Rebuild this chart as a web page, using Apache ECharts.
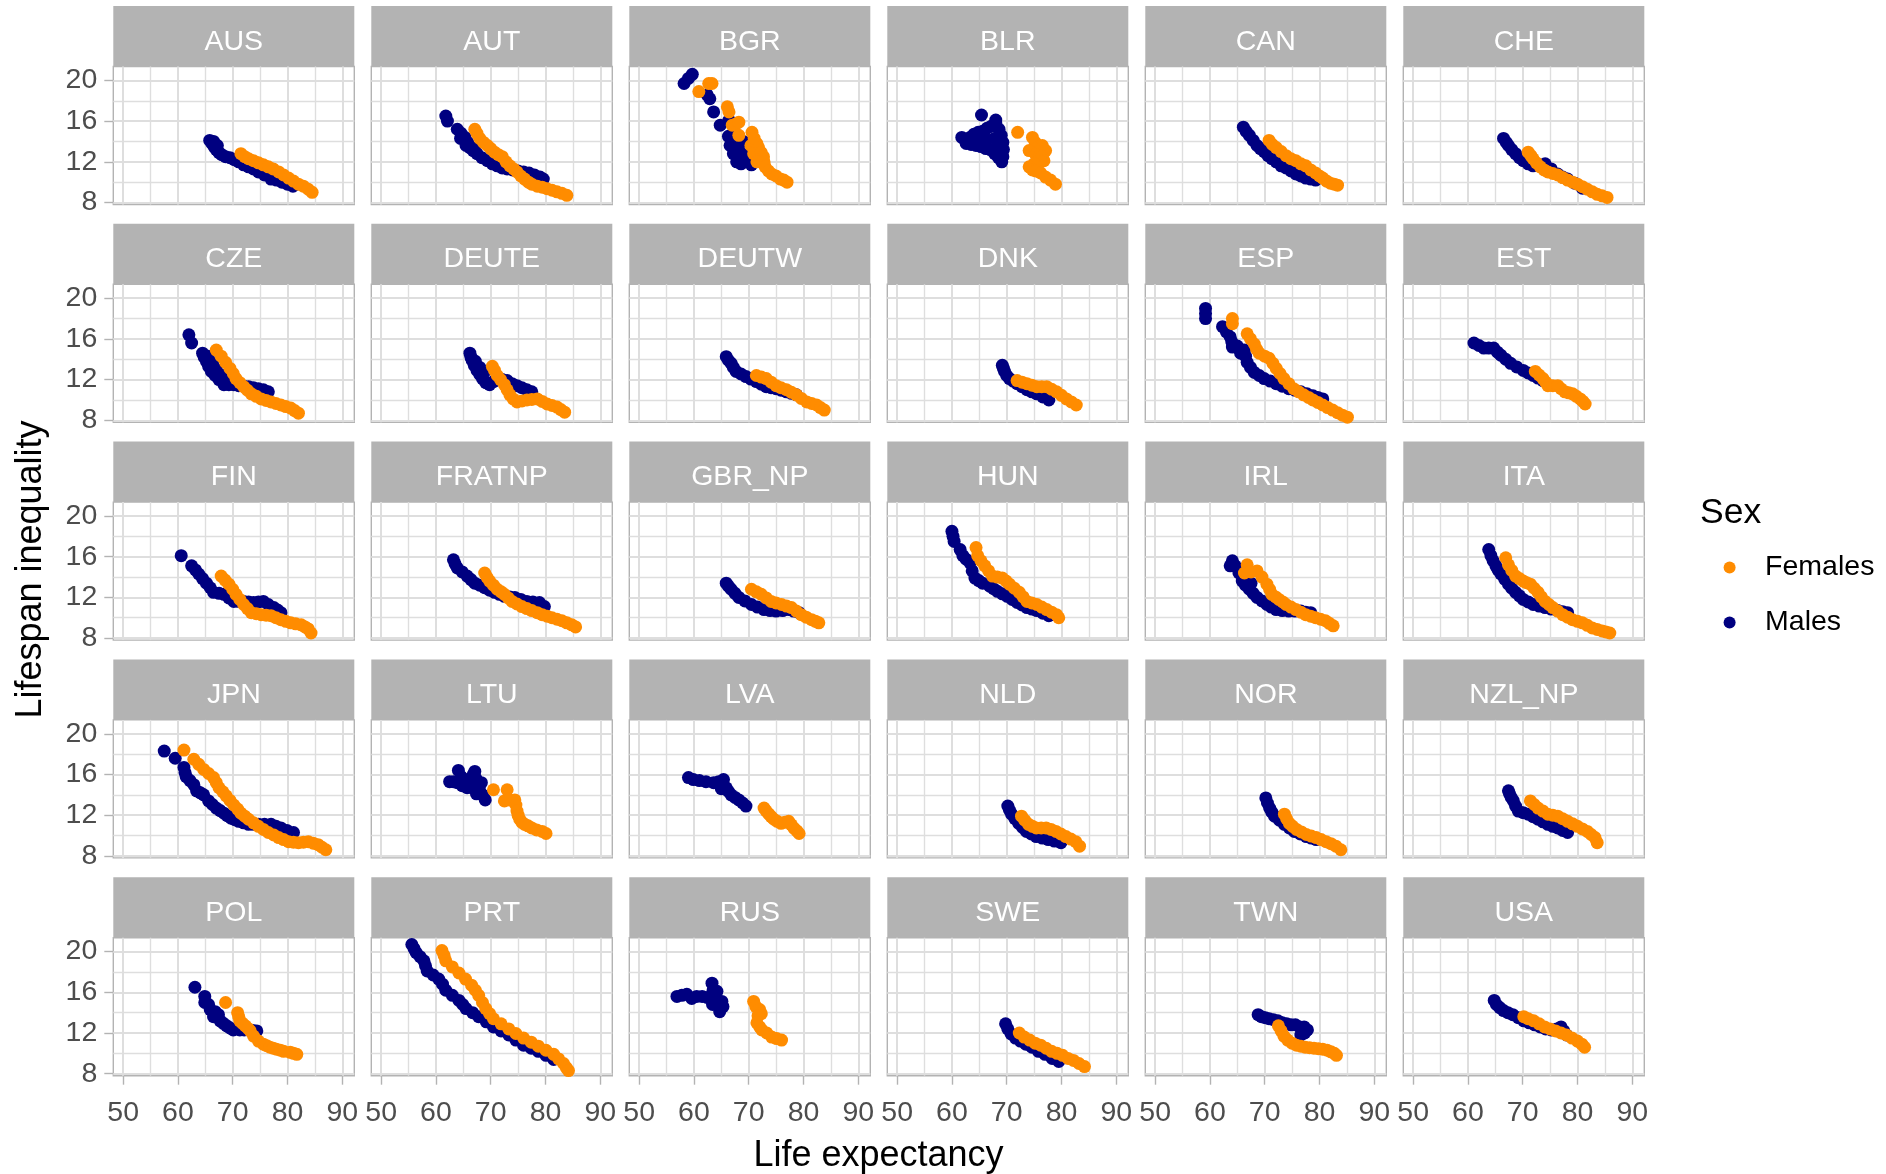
<!DOCTYPE html>
<html><head><meta charset="utf-8">
<script src="https://cdn.jsdelivr.net/npm/echarts@6/dist/echarts.min.js"></script>
<style>html,body{margin:0;padding:0;background:#fff}#c{width:1886px;height:1174px}</style>
</head><body><div id="c"></div>
<script>
const countries = ['AUS','AUT','BGR','BLR','CAN','CHE','CZE','DEUTE','DEUTW','DNK','ESP','EST','FIN','FRATNP','GBR_NP','HUN','IRL','ITA','JPN','LTU','LVA','NLD','NOR','NZL_NP','POL','PRT','RUS','SWE','TWN','USA'];
const xTicks = [50,60,70,80,90];
const yTicks = [8,12,16,20];
const xMinor = [55,65,75,85];
const yMinor = [10,14,18];
const seriesNames = ['Females','Males'];

const AUS_M = [[65.8,14.1],[66.2,13.8],[66.5,14.0],[66.6,13.5],[67,13.2],[67.2,13.6],[67.5,12.9],[68,12.7],[68.7,12.5],[69.5,12.4],[70.3,12.2],[71.1,12.0],[72,11.7],[72.9,11.5],[73.8,11.3],[74.7,11.0],[75.8,10.7],[77,10.3],[78,10.2],[79,10.0],[80,9.8],[81,9.6]];
const AUS_F = [[71.5,12.8],[72.2,12.5],[72.9,12.3],[73.8,12.1],[74.7,11.9],[75.6,11.7],[76.5,11.5],[77.4,11.3],[78.4,11.0],[79.3,10.7],[80.2,10.4],[81.1,10.1],[82,9.8],[82.9,9.6],[83.8,9.3],[84.5,9.0]];
const AUT_M = [[61.8,16.5],[62.1,16.0],[63.9,15.2],[64.5,14.3],[64.6,14.8],[65.3,14.4],[65.5,13.6],[65.8,13.9],[66.2,13.4],[66.8,13.1],[67,13.3],[67.5,12.8],[68.4,12.4],[69.4,12.1],[70.3,11.8],[71.2,11.6],[72.1,11.4],[73,11.3],[74,11.2],[75,11.1],[76,11.0],[77,10.9],[78,10.7],[79,10.5],[79.6,10.3]];
const AUT_F = [[67.1,15.2],[67.5,14.8],[68,14.3],[68.7,13.9],[69.4,13.6],[70,13.3],[70.7,12.95],[71.4,12.7],[72.1,12.5],[72.8,12.0],[73.5,11.6],[74.2,11.3],[74.8,11.0],[75.5,10.6],[76.2,10.3],[76.9,10.0],[77.5,9.8],[78.5,9.6],[79.4,9.5],[80.3,9.35],[81.2,9.2],[82.1,9.05],[83,8.9],[83.9,8.7]];
const BGR_M = [[59.7,20.6],[59.0,20.2],[58.2,19.7],[62.4,18.6],[62.9,18.2],[63.6,16.9],[64.8,15.6],[66.4,16.1],[67.3,15.4],[66.3,14.5],[66.6,13.6],[67.2,12.8],[67.7,14.2],[68.2,13.1],[68.6,12.3],[69.0,14.0],[69.2,12.7],[69.8,12.0],[70.5,11.7],[70.4,12.9],[67.8,12.0],[68.6,11.8]];
const BGR_F = [[62.7,19.7],[63.3,19.7],[60.9,18.9],[66.1,17.4],[66.4,16.9],[67.0,15.6],[67.6,15.7],[68.2,15.9],[68.2,14.6],[70.6,14.9],[71.0,14.3],[70.4,13.6],[71.5,13.8],[71.8,13.4],[70.9,12.8],[72.3,12.9],[72.7,12.5],[71.5,12.0],[72.8,12.0],[73.0,11.5],[73.6,11.1],[74.2,10.8],[75.0,10.6],[75.8,10.3],[76.4,10.2],[77.0,10.0]];
const BLR_M = [[65.4,16.6],[68.0,16.1],[61.8,14.4],[62.5,14.2],[63.3,14.4],[64,14.7],[64.8,14.9],[65.6,15.0],[66.4,15.3],[67.2,15.5],[68,15.8],[68.6,15.2],[69,14.6],[69.3,13.9],[69.4,13.2],[69.3,12.5],[69.1,12.0],[68.5,12.4],[67.8,12.8],[67,13.2],[66.2,13.3],[65.3,13.5],[64.4,13.6],[63.5,13.7],[62.6,13.8],[64.8,14.2],[66.3,14.2],[67.8,14.3],[68.3,13.5]];
const BLR_F = [[72.0,14.9],[74.7,14.4],[75.2,13.9],[75.6,13.4],[76.5,13.6],[77.1,13.1],[75.0,13.2],[74.1,13.1],[75.3,12.7],[76.0,12.6],[76.5,12.5],[76.8,12.1],[76.2,12.0],[75.0,11.8],[74.1,11.5],[74.7,11.2],[75.3,11.1],[76.2,10.9],[77.1,10.5],[78.0,10.2],[78.9,9.8]];
const CAN_M = [[66.1,15.4],[66.6,15.0],[67.2,14.6],[67.9,14.1],[68.6,13.6],[69.2,13.3],[69.9,13.0],[70.6,12.6],[71.3,12.3],[72.1,12.0],[73,11.6],[73.9,11.4],[74.8,11.1],[75.7,10.8],[76.6,10.6],[77.5,10.4],[78.4,10.3],[79.3,10.2]];
const CAN_F = [[70.8,14.1],[71.4,13.7],[72.1,13.4],[73,13.0],[73.9,12.6],[74.8,12.3],[75.7,12.1],[76.6,11.8],[77.5,11.6],[78.4,11.2],[79.3,10.9],[80,10.6],[80.6,10.4],[81.3,10.1],[82,9.9],[82.7,9.8],[83.3,9.7]];
const CHE_M = [[66.5,14.3],[67,13.9],[67.4,13.6],[68,13.2],[68.7,12.8],[69.4,12.4],[70.1,12.1],[71,11.8],[71.9,11.6],[73,11.7],[74.1,11.8],[75.2,11.3],[76.4,10.8],[77.3,10.5],[78.2,10.3],[79.5,9.9],[80.9,9.4]];
const CHE_F = [[71.0,12.95],[71.5,12.6],[71.9,12.3],[72.5,11.9],[73.2,11.5],[73.9,11.2],[74.6,11.0],[75.5,10.85],[76.4,10.7],[77.3,10.45],[78.2,10.2],[79.1,10.0],[80,9.8],[80.9,9.55],[81.8,9.3],[82.7,9.05],[83.6,8.8],[84.5,8.65],[85.4,8.5]];
const CZE_M = [[62.0,16.4],[62.5,15.6],[64.5,14.6],[64.8,14.2],[65.2,13.8],[65.5,14.3],[65.6,13.3],[66.1,12.8],[66.3,13.6],[66.8,12.4],[67,13],[67.5,12.0],[68.2,12.4],[68.4,11.5],[69.3,11.5],[69.3,12.1],[70.2,11.5],[71.1,11.4],[72,11.35],[72.9,11.3],[73.8,11.2],[74.7,11.1],[75.6,11.0],[76.5,10.8]];
const CZE_F = [[67.0,14.9],[67.9,14.3],[68.7,13.7],[69.5,13.1],[70.1,12.6],[70.6,12.1],[71.3,11.7],[72,11.3],[72.7,10.95],[73.4,10.6],[74.3,10.35],[75.2,10.1],[76.1,9.95],[77,9.8],[77.9,9.65],[78.8,9.5],[79.7,9.35],[80.6,9.2],[81.3,8.95],[82,8.7]];
const DEUTE_M = [[66.2,14.6],[66.4,14.2],[66.6,13.9],[67,13.4],[67.2,13.8],[67.5,12.9],[68,12.5],[68,13.2],[68.5,12.1],[68.8,12.7],[69.1,11.7],[69.8,11.5],[70.5,11.8],[71.2,12.1],[72.1,12.0],[73,11.9],[73.9,11.6],[74.8,11.4],[75.7,11.2],[76.6,11.0],[77.5,10.8]];
const DEUTE_F = [[70.3,13.3],[70.7,12.9],[71.2,12.4],[71.8,12.0],[72.5,11.5],[73,11.0],[73.5,10.5],[74.1,10.1],[74.8,9.8],[75.7,9.9],[76.6,10.0],[77.5,10.05],[78.5,10.1],[79.4,9.85],[80.3,9.6],[81.2,9.45],[82.1,9.3],[82.8,9.05],[83.5,8.8]];
const DEUTW_M = [[65.9,14.25],[66.3,13.9],[66.8,13.6],[67.2,13.2],[67.7,12.8],[68.6,12.55],[69.5,12.3],[70.4,12.05],[71.4,11.8],[72.3,11.55],[73.2,11.3],[74.1,11.2],[75,11.1],[75.9,10.95],[76.9,10.8],[77.8,10.65],[78.7,10.5]];
const DEUTW_F = [[71.4,12.4],[72.3,12.25],[73.2,12.1],[74.1,11.75],[75,11.4],[75.9,11.2],[76.9,11.0],[77.8,10.75],[78.7,10.5],[79.6,10.15],[80.6,9.8],[81.5,9.65],[82.4,9.5],[83.1,9.25],[83.8,9.0]];
const DNK_M = [[69.2,13.4],[69.4,13.1],[69.6,12.8],[70,12.4],[70.5,12.1],[71.2,11.85],[71.9,11.6],[72.8,11.3],[73.7,11.0],[74.6,10.8],[75.5,10.6],[76.6,10.3],[77.7,10.0]];
const DNK_F = [[71.9,11.9],[72.8,11.75],[73.7,11.6],[74.6,11.45],[75.5,11.3],[76.4,11.3],[77.3,11.3],[78.2,11.05],[79.1,10.8],[80,10.45],[80.9,10.1],[81.8,9.8],[82.7,9.5]];
const ESP_M = [[59.2,19.0],[59.2,18.5],[59.2,18.0],[62.3,17.2],[63.0,16.7],[63.7,16.2],[64.0,15.7],[64.1,15.2],[65,15.3],[65.6,14.6],[66.3,14.9],[66.5,14.3],[66.8,13.7],[67.4,13.2],[68.1,12.7],[69,12.4],[69.9,12.1],[71,11.85],[72.1,11.6],[73.2,11.35],[74.4,11.1],[75.5,10.95],[76.6,10.8],[77.7,10.6],[78.8,10.4],[79.7,10.25],[80.6,10.1]];
const ESP_F = [[64.1,18.0],[64.1,17.5],[66.8,16.5],[67.4,16.0],[68.1,15.5],[68.5,15.0],[69,14.6],[70,14.3],[70.8,14.1],[71.5,13.6],[72.1,13.1],[72.8,12.6],[73.5,12.1],[74.4,11.6],[75.3,11.1],[76.2,10.8],[77.1,10.5],[78,10.25],[78.8,10.0],[79.7,9.75],[80.6,9.5],[81.5,9.25],[82.4,9.0],[83.3,8.75],[84.2,8.5],[85.1,8.3]];
const EST_M = [[61.1,15.6],[62,15.35],[62.9,15.1],[63.8,15.1],[64.7,15.1],[65.4,14.7],[66,14.4],[66.9,14.0],[67.8,13.6],[68.9,13.25],[70.1,12.9],[71,12.65],[71.9,12.4],[72.8,12.15],[73.7,11.9]];
const EST_F = [[72.3,12.8],[73,12.45],[73.7,12.1],[74.2,11.75],[74.6,11.4],[75.5,11.4],[76.4,11.4],[77,11.1],[77.7,10.8],[78.4,10.7],[79.1,10.6],[79.8,10.35],[80.5,10.1],[81,9.85],[81.4,9.6]];
const FIN_M = [[60.6,16.1],[62.5,15.1],[63.2,14.7],[63.8,14.3],[64.5,13.85],[65.2,13.4],[65.9,12.95],[66.5,12.5],[67.5,12.4],[68.4,12.3],[69.3,11.95],[70.2,11.6],[71.1,11.6],[72,11.6],[72.9,11.55],[73.8,11.5],[74.7,11.55],[75.6,11.6],[76.5,11.3],[77.5,11.0],[78.2,10.75],[78.8,10.5]];
const FIN_F = [[67.9,14.1],[68.6,13.7],[69.3,13.3],[70,12.8],[70.6,12.3],[71.3,11.8],[72,11.3],[72.7,10.9],[73.4,10.5],[74.3,10.4],[75.2,10.3],[76.1,10.25],[77,10.2],[77.9,10.0],[78.8,9.8],[79.7,9.65],[80.6,9.5],[81.5,9.4],[82.5,9.3],[83.2,9.1],[83.8,8.9],[84.3,8.5]];
const FRATNP_M = [[63.2,15.7],[63.5,15.3],[63.9,14.9],[64.8,14.5],[65.7,14.1],[66.4,13.75],[67.1,13.4],[68,13.2],[68.9,12.95],[69.8,12.7],[70.7,12.5],[71.6,12.3],[72.5,12.1],[73.5,12.05],[74.4,12.0],[75.5,11.8],[76.6,11.6],[77.7,11.55],[78.9,11.5],[79.8,11.1]];
const FRATNP_F = [[68.9,14.4],[69.3,14.0],[69.8,13.6],[70.5,13.2],[71.2,12.8],[71.9,12.55],[72.5,12.3],[73.2,11.95],[73.9,11.6],[74.8,11.35],[75.7,11.1],[76.6,10.9],[77.5,10.7],[78.5,10.5],[79.4,10.3],[80.3,10.15],[81.2,10.0],[82.1,9.85],[83,9.7],[83.9,9.5],[84.8,9.3],[85.5,9.1]];
const GBR_NP_M = [[65.9,13.4],[66.3,13.1],[66.8,12.8],[67.5,12.4],[68.2,12.0],[69.3,11.65],[70.5,11.3],[71.6,11.05],[72.8,10.8],[73.9,10.7],[75,10.65],[76.2,10.7],[77.3,10.8],[78.2,10.65],[79.2,10.5]];
const GBR_NP_F = [[70.5,12.8],[71.4,12.55],[72.3,12.3],[73.2,11.95],[74.1,11.6],[75,11.45],[76,11.3],[76.9,11.15],[77.8,11.0],[78.7,10.65],[79.6,10.3],[80.5,10.05],[81.5,9.8],[82.2,9.65],[82.8,9.5]];
const HUN_M = [[60.0,18.5],[60.2,18.0],[60.4,17.5],[61.5,16.7],[62.0,16.1],[62.6,15.75],[63.3,15.4],[63.7,14.6],[64.2,13.9],[64.9,13.65],[65.6,13.4],[66.9,13.1],[67.6,12.85],[68.3,12.6],[69.2,12.35],[70.1,12.1],[71,11.8],[71.9,11.5],[72.8,11.25],[73.7,11.0],[74.6,10.85],[75.5,10.7],[76.6,10.45],[77.7,10.2]];
const HUN_F = [[64.4,16.9],[64.7,16.1],[65.3,15.6],[66,15.1],[66.7,14.6],[67.4,14.1],[68.3,14.0],[69.2,13.9],[69.9,13.6],[70.5,13.3],[71.4,12.9],[72.3,12.5],[73,12.05],[73.7,11.6],[74.6,11.45],[75.5,11.3],[76.4,11.05],[77.3,10.8],[78.2,10.55],[79.1,10.3],[79.5,10.0]];
const IRL_M = [[64.1,15.6],[63.7,15.1],[64.6,15.1],[65.3,14.4],[65.9,13.6],[66.5,13.9],[66.5,13.2],[67.5,13.4],[67.2,12.8],[67.9,12.4],[68.6,12.0],[69.5,11.65],[70.4,11.3],[71.2,11.05],[72.1,10.8],[73.2,10.7],[74.4,10.65],[75.5,10.65],[76.6,10.65],[77.5,10.55],[78.4,10.5]];
const IRL_F = [[66.8,15.2],[66.3,14.4],[67.5,14.5],[68.6,14.6],[69.5,14.0],[70.4,13.3],[70.9,12.8],[71.3,12.3],[72,12.05],[72.6,11.8],[73.3,11.55],[73.9,11.3],[74.8,11.05],[75.7,10.8],[76.6,10.55],[77.5,10.3],[78.4,10.15],[79.3,10.0],[80.2,9.85],[81.1,9.7],[81.8,9.45],[82.5,9.2]];
const ITA_M = [[63.8,16.7],[64.2,16.1],[64.6,15.6],[65.1,15.1],[65.5,14.7],[66,14.3],[66.7,13.8],[67.4,13.3],[68,12.9],[68.7,12.5],[69.4,12.15],[70.1,11.8],[71,11.55],[71.9,11.3],[73,11.15],[74.1,11.0],[75.2,10.85],[76.4,10.7],[77.3,10.6],[78.2,10.5]];
const ITA_F = [[66.9,15.9],[67.4,15.2],[68,14.65],[68.7,14.1],[69.4,13.85],[70.1,13.6],[70.7,13.45],[71.4,13.3],[72.1,12.9],[72.8,12.5],[73.4,12.05],[74.1,11.6],[74.8,11.3],[75.5,11.0],[76.4,10.65],[77.3,10.3],[78.2,10.05],[79.1,9.8],[80,9.65],[80.9,9.5],[81.8,9.25],[82.7,9.0],[83.6,8.85],[84.5,8.7],[85.2,8.6],[85.9,8.5]];
const JPN_M = [[57.5,18.3],[59.5,17.6],[61.1,16.7],[61.3,16.2],[61.5,15.8],[62.2,15.4],[62.9,15.0],[63.4,14.4],[64.1,14.2],[64.7,14.0],[65.6,13.4],[66.3,13.05],[67,12.7],[67.7,12.45],[68.4,12.2],[69,11.95],[69.7,11.7],[70.4,11.55],[71.1,11.4],[72,11.25],[72.9,11.1],[73.8,11.1],[74.7,11.1],[75.8,11.1],[77,11.1],[77.9,10.9],[78.8,10.75],[79.9,10.5],[81.1,10.3]];
const JPN_F = [[61.1,18.4],[62.9,17.5],[63.8,17.0],[64.7,16.5],[65.6,16.1],[66.5,15.7],[67,15.2],[67.5,14.7],[68.2,14.3],[68.8,13.9],[69.5,13.45],[70.2,13.0],[70.9,12.6],[71.5,12.2],[72.2,11.9],[72.9,11.6],[73.8,11.25],[74.7,10.9],[75.6,10.6],[76.5,10.3],[77.5,10.05],[78.4,9.8],[79.3,9.6],[80.2,9.4],[81.1,9.35],[82,9.3],[82.9,9.35],[83.8,9.4],[84.7,9.25],[85.6,9.1],[86.3,8.85],[87,8.6]];
const LTU_M = [[62.5,15.3],[63.2,15.3],[63.9,15.2],[64.1,16.4],[64.6,15.8],[64.8,14.9],[65.3,15.5],[65.7,14.7],[66.2,15.2],[66.6,14.7],[66.8,16.0],[67.1,16.3],[67.3,15.6],[67.4,14.1],[67.7,15.0],[68,14.4],[68.3,15.2],[68.5,14.0],[69,13.5]];
const LTU_F = [[70.5,14.5],[73.0,14.5],[72.5,13.4],[73.4,13.5],[74.4,13.5],[74.6,13.0],[74.8,12.4],[75,12.0],[75.3,11.6],[75.7,11.3],[76.2,11.1],[76.8,10.95],[77.5,10.75],[78.4,10.55],[79.4,10.4],[80.1,10.2]];
const LVA_M = [[59.0,15.7],[59.9,15.5],[61,15.4],[62.2,15.3],[63.6,15.2],[64.5,15.3],[65.4,15.5],[65.9,14.7],[65,14.6],[66.3,14.35],[66.8,14.0],[67.5,13.75],[68.2,13.5],[68.9,13.2],[69.5,12.9]];
const LVA_F = [[72.8,12.7],[73.2,12.4],[73.7,12.1],[74.1,11.85],[74.6,11.6],[75.2,11.4],[75.9,11.2],[76.6,11.3],[77.3,11.4],[77.8,11.05],[78.3,10.7],[78.8,10.45],[79.2,10.2]];
const NLD_M = [[70.2,12.9],[70.5,12.5],[70.9,12.1],[71.5,11.65],[72.2,11.2],[72.9,10.8],[73.6,10.4],[74.5,10.15],[75.4,9.9],[76.5,9.75],[77.6,9.6],[78.7,9.45],[79.9,9.3]];
const NLD_F = [[72.7,11.9],[73.3,11.5],[74,11.1],[74.7,10.9],[75.4,10.75],[76.3,10.75],[77.2,10.75],[78.1,10.6],[79,10.4],[79.9,10.15],[80.8,9.9],[81.7,9.65],[82.6,9.4],[83.3,8.95]];
const NOR_M = [[70.2,13.7],[70.5,13.2],[70.9,12.7],[71.3,12.3],[71.8,11.9],[72.7,11.5],[73.6,11.1],[74.5,10.75],[75.4,10.4],[76.5,10.15],[77.6,9.9],[78.5,9.75],[79.4,9.6]];
const NOR_F = [[73.6,12.1],[74,11.65],[74.5,11.2],[75.1,10.9],[75.8,10.6],[76.7,10.35],[77.6,10.1],[78.5,9.95],[79.4,9.8],[80.3,9.6],[81.2,9.4],[82.1,9.2],[83,8.95],[83.9,8.6]];
const NZL_NP_M = [[67.4,14.4],[67.6,14.1],[67.9,13.75],[68.3,13.4],[68.7,12.9],[69.2,12.4],[70.1,12.25],[71,12.1],[71.9,11.85],[72.8,11.6],[73.7,11.35],[74.6,11.1],[75.5,10.9],[76.4,10.75],[77.3,10.5],[78.2,10.3]];
const NZL_NP_F = [[71.4,13.4],[72.1,13.05],[72.8,12.7],[73.7,12.4],[74.6,12.1],[75.5,12.0],[76.4,11.9],[77.3,11.65],[78.2,11.4],[79.1,11.15],[80,10.9],[80.9,10.65],[81.8,10.4],[82.5,10.1],[83.2,9.8],[83.6,9.3]];
const POL_M = [[63.1,16.5],[64.9,15.6],[64.9,15.0],[65.6,14.8],[65.9,14.3],[66.8,14.1],[66.5,13.6],[67.4,13.8],[67.7,13.2],[68.3,12.95],[68.9,12.7],[69.5,12.5],[70.1,12.3],[71.3,12.3],[72.1,12.3],[72.9,12.3],[73.7,12.25],[74.4,12.2]];
const POL_F = [[68.7,15.0],[70.9,14.0],[71.1,13.6],[71.3,13.2],[71.8,12.95],[72.3,12.7],[72.8,12.45],[73.2,12.2],[73.8,11.7],[74.7,11.2],[75.6,10.9],[76.2,10.75],[76.8,10.6],[77.4,10.5],[78,10.4],[78.7,10.3],[79.3,10.2],[80.5,10.1],[81.1,10.0],[81.7,9.9]];
const PRT_M = [[55.6,20.7],[56.0,20.3],[56.4,19.9],[57.1,19.5],[57.8,19.1],[58.1,18.6],[58.4,18.1],[59.5,17.7],[60.5,17.3],[61.2,16.8],[61.8,16.2],[63,15.7],[64.2,15.2],[64.9,14.8],[65.5,14.4],[66.7,14.0],[67.8,13.6],[69.2,13.1],[70.5,12.6],[71.9,12.2],[73.3,11.8],[74.6,11.3],[76,10.8],[77.4,10.5],[78.7,10.2],[80.1,9.8],[81.5,9.4]];
const PRT_F = [[61.1,20.1],[61.5,19.6],[61.8,19.1],[63,18.5],[64.2,17.9],[65.4,17.3],[66.5,16.7],[67.2,16.2],[67.8,15.7],[68.5,15.0],[69.1,14.4],[69.8,13.9],[70.5,13.4],[71.9,12.9],[73.3,12.4],[74.6,11.95],[76,11.5],[77.4,11.1],[78.7,10.7],[80.1,10.3],[81.5,9.9],[82.4,9.45],[83.3,9.0],[83.8,8.6],[84.2,8.3]];
const RUS_M = [[56.9,15.6],[57.8,15.7],[58.7,15.8],[59.6,15.4],[60.5,15.6],[61.5,15.6],[62.4,15.5],[63.3,16.9],[63.5,16.2],[63.8,15.4],[64.2,16.1],[64.5,15.0],[65.1,15.1],[64.7,14.1],[65.3,14.6],[63.4,14.8]];
const RUS_F = [[70.9,15.1],[71.3,14.6],[72.0,14.3],[72.3,13.9],[71.7,13.7],[71.5,13.0],[72.0,12.6],[72.4,12.3],[73.3,12.0],[74.2,11.6],[75.1,11.45],[76,11.3]];
const SWE_M = [[69.8,12.9],[70.2,12.4],[70.8,11.9],[71.6,11.5],[72.5,11.2],[73.5,10.9],[74.6,10.6],[75.8,10.2],[77,9.9],[78.3,9.5],[79.5,9.2]];
const SWE_F = [[72.3,12.0],[73.2,11.6],[74.2,11.3],[75.2,11.0],[76.2,10.8],[77.2,10.5],[78.2,10.2],[79.2,10.0],[80.2,9.8],[81.2,9.5],[82.2,9.3],[83.2,9.0],[84.2,8.7]];
const TWN_M = [[68.8,13.8],[69.4,13.6],[70.1,13.5],[70.8,13.4],[71.6,13.3],[72.4,13.2],[73.2,13.0],[74,12.9],[74.8,12.8],[75.6,12.8],[76.4,12.6],[77.2,12.6],[77.8,12.3],[77.3,12.0],[76.6,11.8]];
const TWN_F = [[72.5,12.7],[73,12.2],[73.5,11.7],[74.2,11.3],[75,11.0],[75.8,10.8],[76.6,10.7],[77.4,10.6],[78.2,10.55],[79,10.5],[79.8,10.45],[80.6,10.4],[81.4,10.3],[82.1,10.15],[82.7,10.0],[83.1,9.8]];
const USA_M = [[64.8,15.2],[65.2,14.8],[65.8,14.5],[66.5,14.2],[67.3,14.0],[68.2,13.8],[69.2,13.5],[70.2,13.2],[71.2,13.0],[72.2,12.8],[73.2,12.6],[74.2,12.4],[75.2,12.3],[76.2,12.4],[77,12.6],[77.5,12.2],[78,11.8]];
const USA_F = [[70.2,13.6],[71,13.4],[72,13.2],[73,12.9],[74,12.6],[75,12.4],[76,12.2],[77,12.0],[78,11.8],[79,11.5],[80,11.2],[80.8,10.9],[81.3,10.6]];

const femalesData = [AUS_F,AUT_F,BGR_F,BLR_F,CAN_F,CHE_F,CZE_F,DEUTE_F,DEUTW_F,DNK_F,ESP_F,EST_F,FIN_F,FRATNP_F,GBR_NP_F,HUN_F,IRL_F,ITA_F,JPN_F,LTU_F,LVA_F,NLD_F,NOR_F,NZL_NP_F,POL_F,PRT_F,RUS_F,SWE_F,TWN_F,USA_F];
const malesData = [AUS_M,AUT_M,BGR_M,BLR_M,CAN_M,CHE_M,CZE_M,DEUTE_M,DEUTW_M,DNK_M,ESP_M,EST_M,FIN_M,FRATNP_M,GBR_NP_M,HUN_M,IRL_M,ITA_M,JPN_M,LTU_M,LVA_M,NLD_M,NOR_M,NZL_NP_M,POL_M,PRT_M,RUS_M,SWE_M,TWN_M,USA_M];

const FONT = '"Liberation Sans", Arial, Helvetica, sans-serif';
const NCOL = 6, NROW = 5;
const COL0 = 113.3, COLP = 258, PW = 241;
const ROW0 = 6, ROWP = 217.8, STRIPH = 60.5, PH = 138;
const XMIN = 48.2, XMAX = 92.2, YMIN = 7.8, YMAX = 21.37;
const F_COLOR = '#FF8C00', M_COLOR = '#000080';

const grids = [], xAxes = [], yAxes = [], series = [], graphics = [];
const gridLineData = []
  .concat(xTicks.map(v => ({xAxis: v, lineStyle: {width: 2}})))
  .concat(xMinor.map(v => ({xAxis: v, lineStyle: {width: 1.4}})))
  .concat(yTicks.map(v => ({yAxis: v, lineStyle: {width: 2}})))
  .concat(yMinor.map(v => ({yAxis: v, lineStyle: {width: 1.4}})));

countries.forEach((name, i) => {
  const c = i % NCOL, r = Math.floor(i / NCOL);
  const left = COL0 + c * COLP;
  const stripTop = ROW0 + r * ROWP;
  const top = stripTop + STRIPH;
  grids.push({left: left, top: top, width: PW, height: PH, show: true, backgroundColor: '#fff',
    borderColor: '#B3B3B3', borderWidth: 1.4, containLabel: false});
  const bottomRow = r === NROW - 1, leftCol = c === 0;
  xAxes.push({gridIndex: i, type: 'value', min: XMIN, max: XMAX,
    axisLine: {show: false}, splitLine: {show: false},
    axisTick: {show: bottomRow, customValues: xTicks, length: 9, lineStyle: {color: '#B3B3B3', width: 1.4}},
    axisLabel: {show: bottomRow, customValues: xTicks, fontSize: 28.5, color: '#4D4D4D', fontFamily: FONT, margin: 22.5}});
  yAxes.push({gridIndex: i, type: 'value', min: YMIN, max: YMAX,
    axisLine: {show: false}, splitLine: {show: false},
    axisTick: {show: leftCol, customValues: yTicks, length: 9, lineStyle: {color: '#B3B3B3', width: 1.4}},
    axisLabel: {show: leftCol, customValues: yTicks, fontSize: 28.5, color: '#4D4D4D', fontFamily: FONT, margin: 16, padding: [9, 0, 0, 0]}});
  series.push({type: 'scatter', name: 'Males', xAxisIndex: i, yAxisIndex: i, data: malesData[i],
    symbol: 'circle', symbolSize: 13, itemStyle: {color: M_COLOR, opacity: 1}, z: 2, silent: true,
    markLine: {silent: true, symbol: 'none', z: 1, animation: false, label: {show: false},
      lineStyle: {color: '#DEDEDE', type: 'solid', width: 2}, emphasis: {disabled: true}, data: gridLineData}});
  series.push({type: 'scatter', name: 'Females', xAxisIndex: i, yAxisIndex: i, data: femalesData[i],
    symbol: 'circle', symbolSize: 13, itemStyle: {color: F_COLOR, opacity: 1}, z: 3, silent: true});
  graphics.push({type: 'rect', shape: {x: left, y: stripTop, width: PW, height: STRIPH}, style: {fill: '#B3B3B3'}, silent: true});
  graphics.push({type: 'text', x: left + PW / 2, y: stripTop + STRIPH / 2 + 5.5, silent: true,
    style: {text: name, fill: '#FFFFFF', font: '28.5px ' + FONT, align: 'center', verticalAlign: 'middle', textAlign: 'center', textVerticalAlign: 'middle'}});
});

graphics.push({type: 'text', x: 31, y: 569.5, rotation: Math.PI / 2, silent: true,
  style: {text: 'Lifespan inequality', fill: '#000', font: '36px ' + FONT, align: 'center', verticalAlign: 'middle', textAlign: 'center', textVerticalAlign: 'middle'}});
graphics.push({type: 'text', x: 878.5, y: 1156.5, silent: true,
  style: {text: 'Life expectancy', fill: '#000', font: '36px ' + FONT, align: 'center', verticalAlign: 'middle', textAlign: 'center', textVerticalAlign: 'middle'}});
graphics.push({type: 'text', x: 1700, y: 513.5, silent: true,
  style: {text: 'Sex', fill: '#000', font: '35.5px ' + FONT, align: 'left', verticalAlign: 'middle', textAlign: 'left', textVerticalAlign: 'middle'}});

const chart = echarts.init(document.getElementById('c'), null, {renderer: 'canvas'});
chart.setOption({
  animation: false,
  backgroundColor: '#fff',
  grid: grids,
  xAxis: xAxes,
  yAxis: yAxes,
  legend: {orient: 'vertical', left: 1718.6, top: 542.5, itemWidth: 12, itemHeight: 12, itemGap: 15,
    icon: 'circle', data: seriesNames, selectedMode: false,
    textStyle: {fontSize: 28.5, color: '#000', fontFamily: FONT, lineHeight: 30, padding: [10, 0, 0, 24.5]}},
  series: series,
  graphic: {elements: graphics}
});
</script>
</body></html>
